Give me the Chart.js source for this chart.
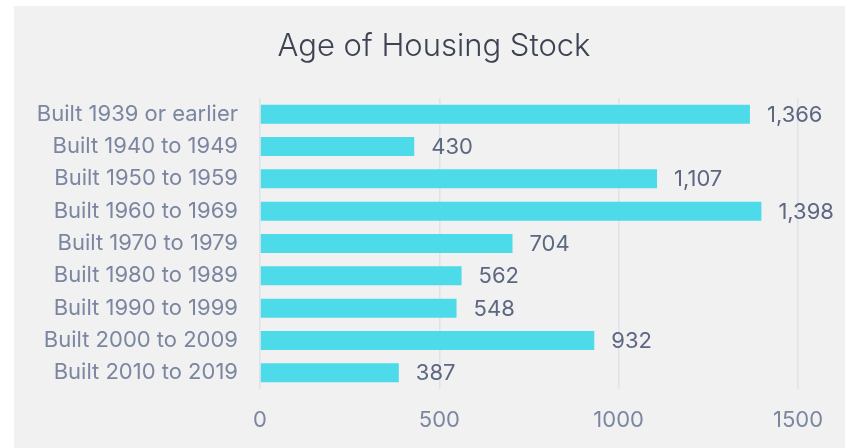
<!DOCTYPE html>
<html>
<head>
<meta charset="utf-8">
<script src="https://cdn.jsdelivr.net/npm/chart.js@4"></script>
<style>
  html, body { margin: 0; padding: 0; background: #ffffff; }
  #wrap { position: absolute; left: 14px; top: 6px; width: 831px; height: 442px; background: #f1f1f1; }
  canvas { display: block; }
</style>
</head>
<body>
<div id="wrap"><canvas id="c" width="831" height="442"></canvas></div>
<script>
const categories = [
  "Built 1939 or earlier",
  "Built 1940 to 1949",
  "Built 1950 to 1959",
  "Built 1960 to 1969",
  "Built 1970 to 1979",
  "Built 1980 to 1989",
  "Built 1990 to 1999",
  "Built 2000 to 2009",
  "Built 2010 to 2019"
];
const housingUnits = [1366, 430, 1107, 1398, 704, 562, 548, 932, 387];
const xTicks = [0, 500, 1000, 1500];
const chartTitle = 'Age of Housing Stock';

const FONT = "Inter, 'Noto Sans', sans-serif";

const titlePlugin = {
  id: 'centerTitle',
  afterDraw(chart) {
    const ctx = chart.ctx;
    ctx.save();
    ctx.font = "300 31px " + FONT;
    ctx.fillStyle = "#3d4352";
    ctx.textAlign = "center";
    ctx.textBaseline = "middle";
    ctx.fillText(chartTitle, 420, 41);
    ctx.restore();
  }
};

const valueLabels = {
  id: 'valueLabels',
  afterDatasetsDraw(chart) {
    const ctx = chart.ctx;
    const meta = chart.getDatasetMeta(0);
    ctx.save();
    ctx.font = "22px " + FONT;
    ctx.fillStyle = "#5c6781";
    ctx.textAlign = "left";
    ctx.textBaseline = "middle";
    meta.data.forEach((bar, i) => {
      const v = chart.data.datasets[0].data[i];
      ctx.fillText(v.toLocaleString('en-US'), bar.x + 17, bar.y + 1);
    });
    ctx.restore();
  }
};

new Chart(document.getElementById('c'), {
  type: 'bar',
  data: {
    labels: categories,
    datasets: [{
      data: housingUnits,
      backgroundColor: '#4ddbe9',
      borderWidth: 0,
      categoryPercentage: 1,
      barPercentage: 0.59
    }]
  },
  options: {
    indexAxis: 'y',
    responsive: false,
    animation: false,
    layout: { padding: { left: 0, right: 47, top: 92, bottom: 0 } },
    plugins: {
      legend: { display: false },
      tooltip: { enabled: false },
      title: { display: false }
    },
    scales: {
      x: {
        min: 0,
        max: 1500,
        afterBuildTicks: (s) => { s.ticks = xTicks.map(v => ({ value: v })); },
        afterFit: (s) => { s.height = 59; },
        grid: { color: '#dfe2e8', lineWidth: 1.5, drawTicks: false },
        border: { display: false },
        ticks: {
          color: '#7b86a0',
          padding: 18,
          font: { family: FONT, size: 22 },
          callback: (v) => String(v)
        }
      },
      y: {
        afterFit: (s) => { s.width = 246; },
        grid: { display: false, drawTicks: false },
        border: { display: false },
        ticks: {
          color: '#7b86a0',
          padding: 22,
          font: { family: FONT, size: 22 }
        }
      }
    }
  },
  plugins: [valueLabels, titlePlugin]
});
</script>
</body>
</html>
